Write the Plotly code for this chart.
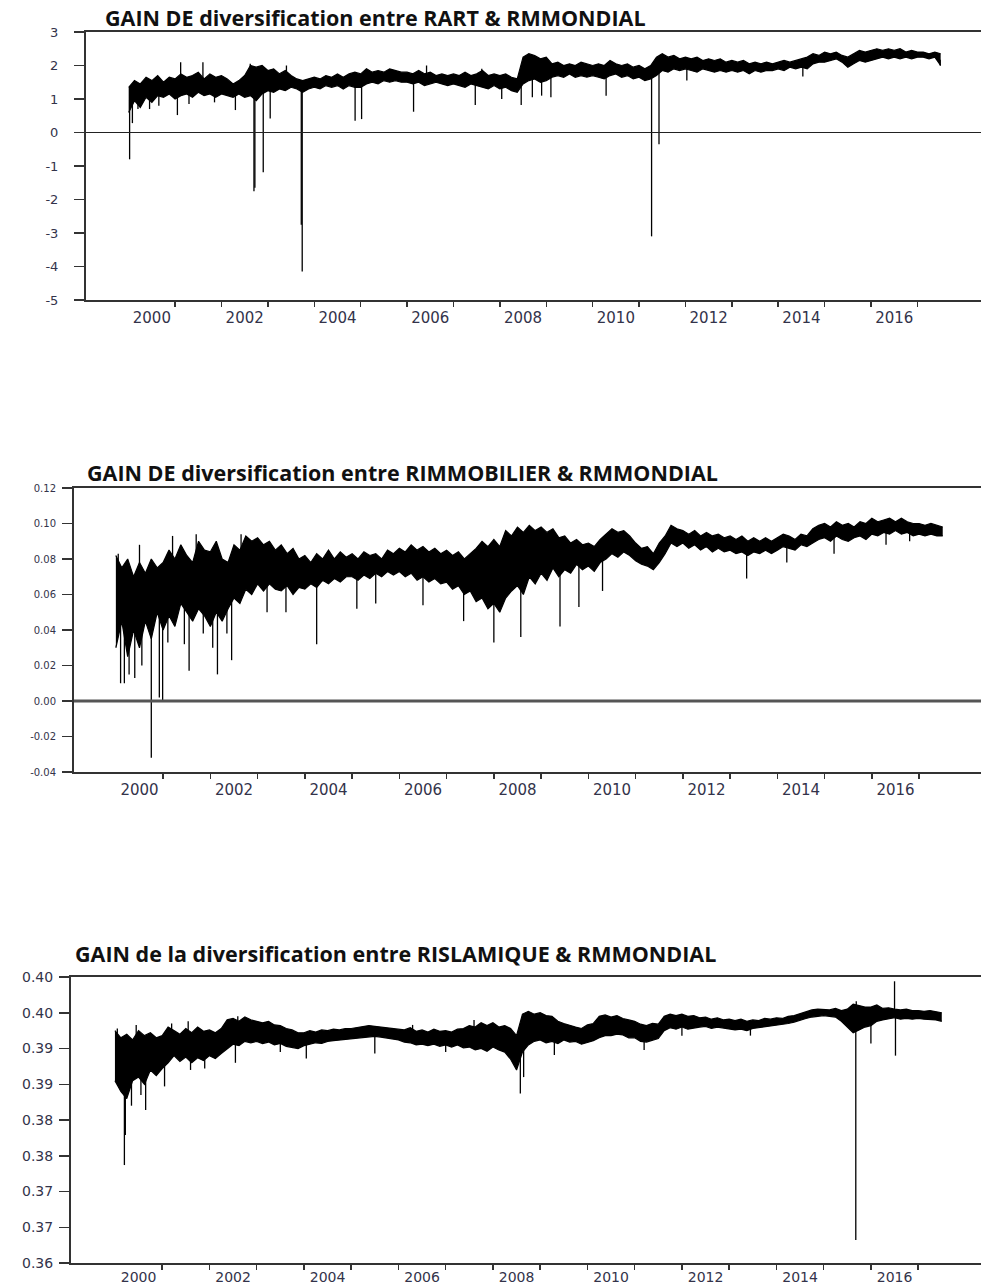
import plotly.graph_objects as go

# ---------------- data ----------------
T0 = 2000.0
STEP = 0.125  # envelope of the daily series, every 1.5 months

# Panel 1 : GAIN DE diversification entre RART & RMMONDIAL
p1_upper = [1.35, 1.55, 1.45, 1.65, 1.55, 1.70, 1.50, 1.65,
            1.60, 1.75, 1.65, 1.70, 1.80, 1.60, 1.75, 1.65,
            1.70, 1.60, 1.45, 1.55, 1.70, 2.00, 1.95, 2.00,
            1.85, 1.90, 1.75, 1.85, 1.70, 1.60, 1.55, 1.60,
            1.65, 1.60, 1.70, 1.65, 1.75, 1.65, 1.75, 1.80,
            1.75, 1.90, 1.80, 1.85, 1.80, 1.90, 1.85, 1.80,
            1.80, 1.75, 1.85, 1.75, 1.80, 1.70, 1.75, 1.70,
            1.75, 1.70, 1.80, 1.70, 1.75, 1.85, 1.70, 1.75,
            1.70, 1.75, 1.65, 1.60, 2.25, 2.35, 2.30, 2.20,
            2.25, 2.05, 2.10, 2.00, 2.05, 2.00, 2.10, 2.05,
            2.00, 2.05, 2.00, 2.15, 2.05, 2.00, 2.05, 1.95,
            2.00, 1.90, 2.00, 2.25, 2.35, 2.25, 2.30, 2.20,
            2.25, 2.20, 2.25, 2.15, 2.20, 2.15, 2.20, 2.10,
            2.15, 2.10, 2.15, 2.05, 2.10, 2.05, 2.10, 2.05,
            2.10, 2.15, 2.10, 2.15, 2.20, 2.25, 2.35, 2.30,
            2.40, 2.35, 2.40, 2.30, 2.25, 2.35, 2.45, 2.40,
            2.45, 2.50, 2.45, 2.50, 2.45, 2.50, 2.40, 2.45,
            2.40, 2.40, 2.35, 2.40, 2.35]
p1_lower = [0.60, 0.95, 0.75, 1.05, 0.90, 1.10, 1.05, 1.15,
            1.00, 1.10, 1.15, 1.05, 1.20, 1.10, 1.15, 1.05,
            1.15, 1.10, 1.05, 1.15, 1.05, 1.10, 0.95, 1.15,
            1.25, 1.20, 1.30, 1.25, 1.35, 1.30, 1.20, 1.30,
            1.35, 1.30, 1.40, 1.35, 1.40, 1.30, 1.40, 1.35,
            1.35, 1.45, 1.50, 1.45, 1.55, 1.50, 1.55, 1.50,
            1.50, 1.45, 1.50, 1.40, 1.45, 1.50, 1.45, 1.40,
            1.45, 1.40, 1.35, 1.45, 1.40, 1.35, 1.30, 1.40,
            1.30, 1.35, 1.25, 1.20, 1.45, 1.55, 1.60, 1.50,
            1.55, 1.65, 1.70, 1.65, 1.75, 1.65, 1.70, 1.65,
            1.70, 1.65, 1.60, 1.70, 1.75, 1.65, 1.70, 1.60,
            1.65, 1.55, 1.60, 1.70, 1.85, 1.80, 1.90, 1.85,
            1.90, 1.85, 1.80, 1.90, 1.85, 1.80, 1.85, 1.80,
            1.85, 1.80, 1.85, 1.75, 1.85, 1.80, 1.85, 1.85,
            1.90, 1.85, 1.95, 1.90, 1.95, 1.90, 2.05, 2.10,
            2.10, 2.15, 2.20, 2.10, 1.95, 2.05, 2.15, 2.10,
            2.15, 2.20, 2.25, 2.20, 2.25, 2.20, 2.25, 2.20,
            2.25, 2.25, 2.20, 2.25, 2.00]
p1_spike_t = [2000.02, 2000.08, 2000.20, 2000.45, 2000.65, 2001.05, 2001.12, 2001.30,
              2001.60, 2001.85, 2002.30, 2002.62, 2002.70, 2002.72, 2002.90, 2003.05,
              2003.40, 2003.72, 2003.74, 2004.88, 2005.02, 2006.14, 2006.42, 2007.47,
              2007.61, 2008.04, 2008.46, 2008.70, 2008.90, 2009.10, 2010.29, 2011.27,
              2011.43, 2012.03, 2014.53, 2017.49]
p1_spike_v = [-0.80, 0.28, 0.70, 0.70, 0.80, 0.52, 2.10, 0.85,
              2.10, 0.90, 0.67, 2.05, -1.75, -1.65, -1.19, 0.42,
              2.00, -2.75, -4.15, 0.35, 0.40, 0.62, 2.00, 0.82,
              1.90, 1.00, 0.82, 1.05, 1.10, 1.05, 1.10, -3.10,
              -0.35, 1.55, 1.67, 2.00]

# Panel 2 : GAIN DE diversification entre RIMMOBILIER & RMMONDIAL
p2_upper = [0.082, 0.075, 0.080, 0.070, 0.078, 0.072, 0.080, 0.075,
            0.078, 0.085, 0.080, 0.088, 0.082, 0.078, 0.090, 0.085,
            0.084, 0.090, 0.080, 0.078, 0.088, 0.085, 0.093, 0.090,
            0.092, 0.088, 0.090, 0.085, 0.088, 0.083, 0.086, 0.080,
            0.082, 0.078, 0.083, 0.080, 0.085, 0.080, 0.084, 0.081,
            0.083, 0.080, 0.084, 0.082, 0.083, 0.080, 0.085, 0.083,
            0.086, 0.084, 0.088, 0.085, 0.087, 0.084, 0.086, 0.083,
            0.085, 0.082, 0.084, 0.080, 0.083, 0.086, 0.090, 0.087,
            0.091, 0.087, 0.096, 0.093, 0.098, 0.095, 0.099, 0.096,
            0.098, 0.095, 0.097, 0.092, 0.093, 0.089, 0.091, 0.088,
            0.089, 0.087, 0.091, 0.094, 0.097, 0.095, 0.096, 0.093,
            0.089, 0.086, 0.087, 0.083, 0.089, 0.093, 0.099, 0.097,
            0.096, 0.094, 0.096, 0.093, 0.095, 0.093, 0.094, 0.092,
            0.093, 0.091, 0.093, 0.090, 0.092, 0.090, 0.092, 0.090,
            0.092, 0.094, 0.093, 0.091, 0.094, 0.093, 0.097, 0.099,
            0.100, 0.098, 0.101, 0.099, 0.100, 0.098, 0.101, 0.100,
            0.103, 0.101, 0.102, 0.103, 0.101, 0.103, 0.101, 0.100,
            0.100, 0.099, 0.100, 0.099, 0.098]
p2_lower = [0.030, 0.045, 0.025, 0.040, 0.030, 0.045, 0.035, 0.050,
            0.040, 0.048, 0.042, 0.055, 0.050, 0.045, 0.052, 0.048,
            0.042, 0.050, 0.045, 0.052, 0.058, 0.055, 0.063, 0.060,
            0.066, 0.062, 0.066, 0.063, 0.062, 0.065, 0.060, 0.064,
            0.063, 0.066, 0.064, 0.068, 0.066, 0.069, 0.067, 0.070,
            0.070, 0.068, 0.071, 0.069, 0.072, 0.070, 0.073, 0.071,
            0.073, 0.070, 0.072, 0.068, 0.070, 0.067, 0.069, 0.066,
            0.067, 0.063, 0.065, 0.060, 0.062, 0.056, 0.058, 0.052,
            0.055, 0.050, 0.058, 0.062, 0.065, 0.060, 0.070, 0.066,
            0.072, 0.068, 0.075, 0.070, 0.074, 0.072, 0.077, 0.074,
            0.076, 0.073, 0.078, 0.080, 0.083, 0.081, 0.084, 0.082,
            0.079, 0.077, 0.076, 0.074, 0.078, 0.083, 0.089, 0.087,
            0.089, 0.086, 0.088, 0.085, 0.087, 0.084, 0.086, 0.084,
            0.085, 0.083, 0.084, 0.082, 0.084, 0.083, 0.085, 0.083,
            0.085, 0.087, 0.086, 0.085, 0.088, 0.087, 0.089, 0.091,
            0.092, 0.090, 0.093, 0.091, 0.090, 0.092, 0.093, 0.091,
            0.094, 0.093, 0.095, 0.094, 0.096, 0.094, 0.095, 0.093,
            0.094, 0.093, 0.094, 0.093, 0.093]
p2_spike_t = [2000.05, 2000.10, 2000.18, 2000.28, 2000.40, 2000.50, 2000.55, 2000.75,
              2000.92, 2000.99, 2001.10, 2001.20, 2001.45, 2001.55, 2001.70, 2001.85,
              2002.05, 2002.15, 2002.35, 2002.45, 2002.65, 2003.20, 2003.60, 2004.25,
              2005.10, 2005.50, 2006.50, 2007.36, 2008.00, 2008.57, 2009.40, 2009.80,
              2010.30, 2013.35, 2014.20, 2015.20, 2016.30, 2016.80]
p2_spike_v = [0.083, 0.010, 0.010, 0.015, 0.013, 0.088, 0.020, -0.032,
              0.002, 0.000, 0.033, 0.093, 0.032, 0.017, 0.094, 0.038,
              0.030, 0.015, 0.038, 0.023, 0.094, 0.050, 0.050, 0.032,
              0.052, 0.055, 0.054, 0.045, 0.033, 0.036, 0.042, 0.053,
              0.062, 0.069, 0.078, 0.083, 0.088, 0.090]

# Panel 3 : GAIN de la diversification entre RISLAMIQUE & RMMONDIAL
p3_upper = [0.3925, 0.3915, 0.3920, 0.3912, 0.3925, 0.3918, 0.3922, 0.3915,
            0.3918, 0.3930, 0.3925, 0.3920, 0.3928, 0.3922, 0.3930, 0.3924,
            0.3926, 0.3922, 0.3928, 0.3940, 0.3942, 0.3938, 0.3944, 0.3940,
            0.3938, 0.3936, 0.3938, 0.3933, 0.3932, 0.3928, 0.3926, 0.3922,
            0.3922, 0.3925, 0.3923, 0.3926, 0.3925, 0.3927, 0.3926, 0.3928,
            0.3928, 0.3929, 0.3930, 0.3932, 0.3931, 0.3930, 0.3929, 0.3928,
            0.3928, 0.3926, 0.3929, 0.3924, 0.3926, 0.3923, 0.3927, 0.3924,
            0.3925, 0.3923, 0.3927, 0.3928, 0.3932, 0.3930, 0.3936, 0.3932,
            0.3936, 0.3930, 0.3932, 0.3928, 0.3918, 0.3948, 0.3952, 0.3948,
            0.3950, 0.3946, 0.3945, 0.3938, 0.3935, 0.3932, 0.3930, 0.3928,
            0.3933, 0.3935, 0.3945, 0.3947, 0.3944, 0.3946, 0.3942, 0.3940,
            0.3938, 0.3934, 0.3932, 0.3935, 0.3934, 0.3945, 0.3948, 0.3946,
            0.3948, 0.3945, 0.3946, 0.3943, 0.3944, 0.3941, 0.3943, 0.3940,
            0.3941, 0.3939, 0.3941, 0.3938, 0.3940, 0.3939, 0.3942, 0.3941,
            0.3943, 0.3942, 0.3945, 0.3946, 0.3949, 0.3952, 0.3954, 0.3955,
            0.3955, 0.3954, 0.3956, 0.3953, 0.3955, 0.3962, 0.3960, 0.3958,
            0.3958, 0.3961, 0.3956, 0.3957, 0.3955, 0.3954, 0.3955, 0.3953,
            0.3953, 0.3952, 0.3953, 0.3951, 0.3950]
p3_lower = [0.3855, 0.3840, 0.3830, 0.3855, 0.3860, 0.3850, 0.3870, 0.3862,
            0.3872, 0.3880, 0.3890, 0.3882, 0.3888, 0.3880, 0.3887, 0.3883,
            0.3890, 0.3886, 0.3893, 0.3900, 0.3906, 0.3904, 0.3910, 0.3908,
            0.3910, 0.3907, 0.3909, 0.3905, 0.3907, 0.3903, 0.3902, 0.3900,
            0.3904, 0.3906, 0.3908, 0.3907, 0.3910, 0.3911, 0.3912, 0.3913,
            0.3914, 0.3915, 0.3916, 0.3917, 0.3917, 0.3916, 0.3915, 0.3913,
            0.3912, 0.3909, 0.3908, 0.3905, 0.3906, 0.3904, 0.3906, 0.3903,
            0.3905, 0.3902, 0.3905, 0.3901, 0.3902, 0.3898, 0.3900, 0.3896,
            0.3902, 0.3898, 0.3895, 0.3885, 0.3870, 0.3895, 0.3905, 0.3910,
            0.3912, 0.3908, 0.3910, 0.3907, 0.3912, 0.3909, 0.3910, 0.3906,
            0.3908, 0.3911, 0.3915, 0.3918, 0.3918, 0.3920, 0.3919, 0.3915,
            0.3915, 0.3910, 0.3909, 0.3912, 0.3914, 0.3925, 0.3929, 0.3927,
            0.3930, 0.3927, 0.3929, 0.3930, 0.3931, 0.3928, 0.3930, 0.3929,
            0.3928, 0.3926, 0.3927, 0.3925, 0.3928, 0.3929, 0.3930, 0.3931,
            0.3932, 0.3933, 0.3935, 0.3937, 0.3940, 0.3942, 0.3944, 0.3945,
            0.3946, 0.3945, 0.3944, 0.3938, 0.3930, 0.3922, 0.3926, 0.3930,
            0.3932, 0.3938, 0.3940, 0.3942, 0.3943, 0.3941, 0.3942, 0.3941,
            0.3942, 0.3941, 0.3941, 0.3940, 0.3938]
p3_spike_t = [2000.05, 2000.20, 2000.22, 2000.35, 2000.45, 2000.55, 2000.65, 2001.05,
              2001.20, 2001.55, 2001.60, 2001.90, 2002.55, 2002.60, 2003.50, 2004.05,
              2005.50, 2006.30, 2007.00, 2007.60, 2008.58, 2008.65, 2009.30, 2011.20,
              2012.00, 2013.45, 2015.68, 2015.69, 2016.00, 2016.50, 2016.52]
p3_spike_v = [0.3928, 0.3737, 0.3779, 0.3820, 0.3933, 0.3835, 0.3814, 0.3847,
              0.3935, 0.3938, 0.3870, 0.3872, 0.3880, 0.3945, 0.3895, 0.3886,
              0.3893, 0.3933, 0.3895, 0.3940, 0.3837, 0.3860, 0.3891, 0.3898,
              0.3918, 0.3918, 0.3632, 0.3966, 0.3907, 0.3994, 0.3890]

# axis labels
year_ticks = [2001, 2002, 2003, 2004, 2005, 2006, 2007, 2008, 2009, 2010, 2011,
              2012, 2013, 2014, 2015, 2016, 2017]
year_label_pos = [2000.5, 2002.5, 2004.5, 2006.5, 2008.5, 2010.5, 2012.5, 2014.5, 2016.5]
year_labels = ["2000", "2002", "2004", "2006", "2008", "2010", "2012", "2014", "2016"]

p1_yticks = [-5, -4, -3, -2, -1, 0, 1, 2, 3]
p1_ytext = ["-5", "-4", "-3", "-2", "-1", "0", "1", "2", "3"]
p2_yticks = [-0.04, -0.02, 0.0, 0.02, 0.04, 0.06, 0.08, 0.10, 0.12]
p2_ytext = ["-0.04", "-0.02", "0.00", "0.02", "0.04", "0.06", "0.08", "0.10", "0.12"]
p3_yticks = [0.360, 0.365, 0.370, 0.375, 0.380, 0.385, 0.390, 0.395, 0.400]
p3_ytext = ["0.36", "0.37", "0.37", "0.38", "0.38", "0.39", "0.39", "0.40", "0.40"]

titles = ["GAIN DE diversification entre RART & RMMONDIAL",
          "GAIN DE diversification entre RIMMOBILIER & RMMONDIAL",
          "GAIN de la diversification entre RISLAMIQUE & RMMONDIAL"]

# ---------------- figure ----------------
W, H = 981, 1287
fig = go.Figure()

panels = [
    dict(up=p1_upper, lo=p1_lower, st=p1_spike_t, sv=p1_spike_v,
         xd=[86 / W, 1.0], yd=[1 - 300 / H, 1 - 32 / H], xr=[1999.08, 2018.37],
         yr=[-5, 3], yt=p1_yticks, ytt=p1_ytext, yfs=13, ystand=13, zero=(1.2, "#222222"),
         title_xy=(103, 17), xfs=15, xtl=3),
    dict(up=p2_upper, lo=p2_lower, st=p2_spike_t, sv=p2_spike_v,
         xd=[74 / W, 1.0], yd=[1 - 772 / H, 1 - 488 / H], xr=[1999.114, 2018.31],
         yr=[-0.04, 0.12], yt=p2_yticks, ytt=p2_ytext, yfs=10, ystand=4, zero=(3, "#555555"),
         title_xy=(85, 472), xfs=15, xtl=3),
    dict(up=p3_upper, lo=p3_lower, st=p3_spike_t, sv=p3_spike_v,
         xd=[71 / W, 1.0], yd=[1 - 1263 / H, 1 - 977 / H], xr=[1999.07, 2018.33],
         yr=[0.36, 0.40], yt=p3_yticks, ytt=p3_ytext, yfs=14, ystand=3, zero=None,
         title_xy=(73, 953), xfs=14, xtl=0),
]

axcol = "#333333"
labcol = "#33334a"
shapes = []
annotations = []
for i, p in enumerate(panels):
    n = i + 1
    xa = "x" if n == 1 else f"x{n}"
    ya = "y" if n == 1 else f"y{n}"
    times = [T0 + k * STEP for k in range(len(p["up"]))]
    fig.add_trace(go.Scatter(x=times, y=p["lo"], mode="lines", xaxis=xa, yaxis=ya,
                             line=dict(color="black", width=1.2), showlegend=False,
                             hoverinfo="skip"))
    fig.add_trace(go.Scatter(x=times, y=p["up"], mode="lines", xaxis=xa, yaxis=ya,
                             fill="tonexty", fillcolor="black",
                             line=dict(color="black", width=1.2), showlegend=False,
                             hoverinfo="skip"))
    sx, sy = [], []
    for t, v in zip(p["st"], p["sv"]):
        k = min(max(int(round((t - T0) / STEP)), 0), len(p["up"]) - 1)
        base = 0.5 * (p["up"][k] + p["lo"][k])
        sx += [t, t, None]
        sy += [base, v, None]
    fig.add_trace(go.Scatter(x=sx, y=sy, mode="lines", xaxis=xa, yaxis=ya,
                             line=dict(color="black", width=1.3), showlegend=False,
                             hoverinfo="skip"))

    xkey = "xaxis" if n == 1 else f"xaxis{n}"
    ykey = "yaxis" if n == 1 else f"yaxis{n}"
    fig.update_layout(**{
        xkey: dict(domain=p["xd"], range=p["xr"], anchor=ya, showgrid=False, zeroline=False,
                   automargin=False,
                   showline=True, linecolor=axcol, linewidth=2, mirror=True,
                   tickmode="array", tickvals=year_label_pos, ticktext=year_labels,
                   ticks="outside", ticklen=p["xtl"], tickcolor="rgba(0,0,0,0)",
                   tickfont=dict(family="DejaVu Sans", size=p["xfs"], color=labcol),
                   minor=dict(tickmode="array", tickvals=year_ticks, ticks="outside",
                              ticklen=5, tickwidth=1.5, tickcolor=axcol, showgrid=False)),
        ykey: dict(domain=p["yd"], range=p["yr"], anchor=xa, showgrid=False, zeroline=False,
                   automargin=False,
                   showline=True, linecolor=axcol, linewidth=2, mirror=False,
                   tickmode="array", tickvals=p["yt"], ticktext=p["ytt"],
                   ticks="outside", ticklen=10, tickwidth=1.5, tickcolor=axcol,
                   ticklabelstandoff=p["ystand"],
                   tickfont=dict(family="DejaVu Sans", size=p["yfs"], color=labcol)),
    })
    if p["zero"] is not None:
        shapes.append(dict(type="line", xref=f"{xa} domain", yref=ya, x0=0, x1=1, y0=0, y1=0,
                           line=dict(color=p["zero"][1], width=p["zero"][0]), layer="above"))
    tx, ty = p["title_xy"]
    annotations.append(dict(text=titles[i], xref="paper", yref="paper", x=tx / W, y=1 - ty / H,
                            xanchor="left", yanchor="middle", showarrow=False,
                            font=dict(family="Open Sans", size=21.5, color="#111111", weight=700)))

fig.update_layout(width=W, height=H, margin=dict(l=0, r=0, t=0, b=0, autoexpand=False),
                  paper_bgcolor="white", plot_bgcolor="white",
                  shapes=shapes, annotations=annotations, showlegend=False)

fig.write_html("out.html",
               config={"displayModeBar": False, "staticPlot": True},
               post_script="document.body.style.margin='0px';"
                           "document.body.style.overflow='hidden';")
